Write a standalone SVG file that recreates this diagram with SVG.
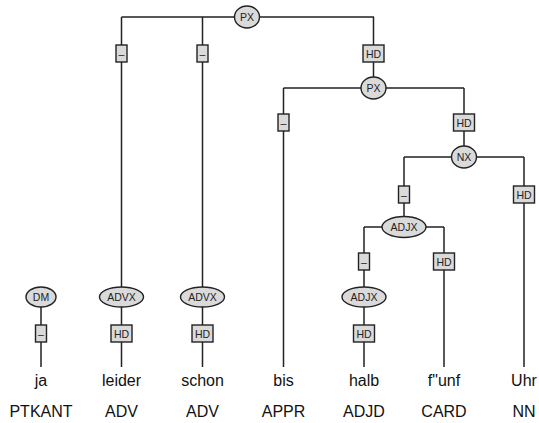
<svg xmlns="http://www.w3.org/2000/svg" width="539" height="423" viewBox="0 0 539 423">
  <style>
    .edge { stroke: #222; stroke-width: 1.5; fill: none; }
    .cat { fill: #dadada; stroke: #222; stroke-width: 1.4; }
    .fn { fill: #dadada; stroke: #222; stroke-width: 1.4; }
    .lbl { font-family: "Liberation Sans", Arial, sans-serif; font-size: 10.5px; fill: #222; text-anchor: middle; dominant-baseline: central; }
    .word { font-family: "Liberation Sans", Arial, sans-serif; font-size: 16px; fill: #111; text-anchor: middle; }
  </style>
  <rect width="539" height="423" fill="#fff"/>

  <!-- tree branches -->
  <g id="connectors">
    <path class="edge" d="M121.5 17 H374 M121.5 17 V287 M202.5 17 V287 M373.5 17 V78"/>
    <path class="edge" d="M283.5 88 H464 M283.5 88 V367 M464 88 V147"/>
    <path class="edge" d="M404 157 H524 M404 157 V217 M524 157 V367"/>
    <path class="edge" d="M364 227 H444 M364 227 V287 M444 227 V367"/>
    <path class="edge" d="M364 297 V367 M121.5 297 V367 M202.5 297 V367 M41 297 V367"/>
    <!-- edge function labels -->
    <g id="edge-labels">
      <rect class="fn" x="116" y="45" width="11" height="17"/><text class="lbl" x="121.5" y="53.5">–</text>
      <rect class="fn" x="197" y="45" width="11" height="17"/><text class="lbl" x="202.5" y="53.5">–</text>
      <rect class="fn" x="363" y="45" width="21" height="17"/><text class="lbl" x="373.5" y="53.5">HD</text>
      <rect class="fn" x="278" y="114" width="11" height="17"/><text class="lbl" x="283.5" y="122.5">–</text>
      <rect class="fn" x="453.5" y="114" width="21" height="17"/><text class="lbl" x="464" y="122.5">HD</text>
      <rect class="fn" x="398.5" y="186" width="11" height="17"/><text class="lbl" x="404" y="194.5">–</text>
      <rect class="fn" x="513.5" y="186" width="21" height="17"/><text class="lbl" x="524" y="194.5">HD</text>
      <rect class="fn" x="358.5" y="253" width="11" height="17"/><text class="lbl" x="364" y="261.5">–</text>
      <rect class="fn" x="433.5" y="253" width="21" height="17"/><text class="lbl" x="444" y="261.5">HD</text>
      <rect class="fn" x="35.5" y="325" width="11" height="17"/><text class="lbl" x="41" y="333.5">–</text>
      <rect class="fn" x="111" y="325" width="21" height="17"/><text class="lbl" x="121.5" y="333.5">HD</text>
      <rect class="fn" x="192" y="325" width="21" height="17"/><text class="lbl" x="202.5" y="333.5">HD</text>
      <rect class="fn" x="353.5" y="325" width="21" height="17"/><text class="lbl" x="364" y="333.5">HD</text>
    </g>
  </g>

  <!-- phrase nodes -->
  <g id="px-top"><ellipse class="cat" cx="247" cy="17" rx="12.5" ry="11"/><text class="lbl" x="247" y="17">PX</text></g>
  <g id="px-inner"><ellipse class="cat" cx="373.5" cy="88" rx="12.5" ry="11"/><text class="lbl" x="373.5" y="88">PX</text></g>
  <g id="nx"><ellipse class="cat" cx="464" cy="157" rx="12.5" ry="11"/><text class="lbl" x="464" y="157">NX</text></g>
  <g id="adjx-outer"><ellipse class="cat" cx="404" cy="227" rx="22" ry="10.5"/><text class="lbl" x="404" y="227">ADJX</text></g>
  <g id="adjx-inner"><ellipse class="cat" cx="364" cy="297" rx="22" ry="10"/><text class="lbl" x="364" y="297">ADJX</text></g>
  <g id="dm"><ellipse class="cat" cx="41" cy="297" rx="15" ry="10"/><text class="lbl" x="41" y="297">DM</text></g>
  <g id="advx-1"><ellipse class="cat" cx="121.5" cy="297" rx="22" ry="10"/><text class="lbl" x="121.5" y="297">ADVX</text></g>
  <g id="advx-2"><ellipse class="cat" cx="202.5" cy="297" rx="22" ry="10"/><text class="lbl" x="202.5" y="297">ADVX</text></g>

  <!-- terminals: word and part-of-speech tag -->
  <g id="t-ja"><text class="word" x="41" y="386">ja</text><text class="word" x="41" y="417">PTKANT</text></g>
  <g id="t-leider"><text class="word" x="121.5" y="386">leider</text><text class="word" x="121.5" y="417">ADV</text></g>
  <g id="t-schon"><text class="word" x="202.5" y="386">schon</text><text class="word" x="202.5" y="417">ADV</text></g>
  <g id="t-bis"><text class="word" x="283.5" y="386">bis</text><text class="word" x="283.5" y="417">APPR</text></g>
  <g id="t-halb"><text class="word" x="364" y="386">halb</text><text class="word" x="364" y="417">ADJD</text></g>
  <g id="t-fuenf"><text class="word" x="444" y="386">f"unf</text><text class="word" x="444" y="417">CARD</text></g>
  <g id="t-uhr"><text class="word" x="524" y="386">Uhr</text><text class="word" x="524" y="417">NN</text></g>
</svg>
